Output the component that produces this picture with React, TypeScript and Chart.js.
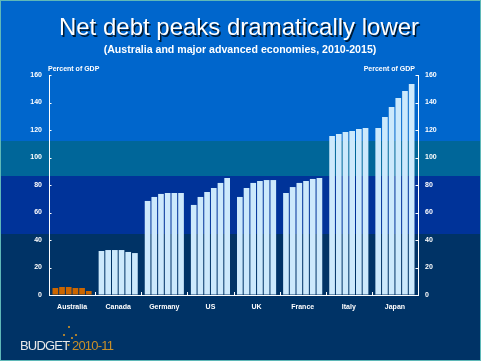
import React, { useEffect, useRef } from "react";
import { Chart, registerables } from "chart.js";

Chart.register(...registerables);

const countries = ["Australia", "Canada", "Germany", "US", "UK", "France", "Italy", "Japan"];
const years = ["2010", "2011", "2012", "2013", "2014", "2015"];

const australia = [5.1, 5.8, 5.8, 5.1, 5.1, 2.9];
const canada = [32, 32.7, 32.7, 32.7, 31.3, 30.5];
const germany = [68.4, 71.3, 73.5, 74.2, 74.2, 74.2];
const us = [65.5, 71.3, 74.9, 77.8, 81.5, 85.1];
const uk = [71.3, 77.8, 81.5, 82.9, 83.6, 83.6];
const france = [74.2, 78.5, 81.5, 82.9, 84.4, 85.1];
const italy = [115.6, 117.1, 118.5, 119.3, 120.7, 121.5];
const japan = [121.5, 129.5, 136.7, 143.3, 148.4, 153.5];

const yTicks = [0, 20, 40, 60, 80, 100, 120, 140, 160];

const title = "Net debt peaks dramatically lower";
const subtitle = "(Australia and major advanced economies, 2010-2015)";
const axisTitle = "Percent of GDP";

const byCountry = [australia, canada, germany, us, uk, france, italy, japan];

const ORANGE = "#cc6600";
const LIGHT = "#cce9fc";
const FONT = "'Liberation Sans', Arial, sans-serif";

const slidePlugin = {
  id: "slide",
  beforeDraw(chart: any) {
    const { ctx, width, height } = chart;
    ctx.save();
    ctx.fillStyle = "#0066cc";
    ctx.fillRect(0, 0, width, 141);
    ctx.fillStyle = "#006699";
    ctx.fillRect(0, 141, width, 35);
    ctx.fillStyle = "#003399";
    ctx.fillRect(0, 176, width, 58);
    ctx.fillStyle = "#003366";
    ctx.fillRect(0, 234, width, height - 234);
    ctx.restore();
  },
  afterDraw(chart: any) {
    const { ctx, width, height, chartArea } = chart;
    const yL = chart.scales.y;
    const yR = chart.scales.y2;
    const x = chart.scales.x;
    ctx.save();
    ctx.strokeStyle = "#ffffff";
    ctx.lineWidth = 1;
    ctx.beginPath();
    yL.ticks.forEach((_t: any, i: number) => {
      const py = Math.round(yL.getPixelForTick(i)) + 0.5;
      ctx.moveTo(chartArea.left, py);
      ctx.lineTo(chartArea.left + 2.5, py);
    });
    yR.ticks.forEach((_t: any, i: number) => {
      const py = Math.round(yR.getPixelForTick(i)) + 0.5;
      ctx.moveTo(chartArea.right, py);
      ctx.lineTo(chartArea.right - 2.5, py);
    });
    for (let i = 1; i < countries.length; i++) {
      const px = Math.round((x.getPixelForValue(i - 1) + x.getPixelForValue(i)) / 2) + 0.5;
      ctx.moveTo(px, chartArea.bottom);
      ctx.lineTo(px, chartArea.bottom - 3);
    }
    ctx.stroke();

    // Title
    ctx.textAlign = "center";
    ctx.textBaseline = "alphabetic";
    ctx.font = `24px ${FONT}`;
    ctx.fillStyle = "#001a33";
    ctx.fillText(title, 239 + 1.5, 35 + 1.5);
    ctx.fillStyle = "#ffffff";
    ctx.fillText(title, 239, 35);
    ctx.font = `bold 10.6px ${FONT}`;
    ctx.fillText(subtitle, 240, 53);

    // Axis titles
    ctx.font = `bold 7px ${FONT}`;
    ctx.textAlign = "left";
    ctx.fillText(axisTitle, chartArea.left - 1, 71);
    ctx.textAlign = "right";
    ctx.fillText(axisTitle, chartArea.right - 3, 71);

    // Logo
    ctx.textAlign = "left";
    ctx.font = `13px ${FONT}`;
    (ctx as any).letterSpacing = "-0.8px";
    ctx.fillStyle = "#e8e8e8";
    ctx.fillText("BUDGET", 20, 350);
    ctx.fillStyle = "#c8902a";
    ctx.fillText("2010-11", 72, 350);
    (ctx as any).letterSpacing = "0px";
    ctx.fillStyle = "#e09a20";
    [[69, 327], [76, 335], [64, 335], [72, 338], [68.5, 345]].forEach(([dx, dy]) => {
      ctx.beginPath();
      ctx.arc(dx, dy, 1, 0, Math.PI * 2);
      ctx.fill();
    });

    // Slide border
    ctx.strokeStyle = "#5fb8b8";
    ctx.lineWidth = 1;
    ctx.strokeRect(0.5, 0.5, width - 1, height - 1);
    ctx.restore();
  },
};

export default function App() {
  const ref = useRef<HTMLCanvasElement | null>(null);
  useEffect(() => {
    document.body.style.margin = "0";
    const canvas = ref.current;
    if (!canvas) return;
    const datasets = years.map((yr, j) => ({
      label: yr,
      data: byCountry.map((c) => c[j]),
      backgroundColor: countries.map((_c, i) => (i === 0 ? ORANGE : LIGHT)),
      borderWidth: 0,
      categoryPercentage: 0.87,
      barPercentage: 0.85,
    }));
    const tickFont = { family: FONT, size: 7, weight: "bold" as const };
    const chart = new Chart(canvas, {
      type: "bar",
      data: { labels: countries, datasets },
      plugins: [slidePlugin],
      options: {
        responsive: false,
        animation: false,
        events: [],
        layout: { padding: { top: 75, left: 0, right: 0, bottom: 0 } },
        plugins: { legend: { display: false }, tooltip: { enabled: false }, title: { display: false } },
        scales: {
          x: {
            grid: { display: false, drawTicks: false },
            border: { color: "#ffffff", width: 1 },
            ticks: { color: "#ffffff", font: tickFont, padding: 8, maxRotation: 0 },
            afterFit: (s: any) => { s.height = 66; },
          },
          y: {
            position: "left",
            min: 0,
            max: 160,
            afterBuildTicks: (s: any) => { s.ticks = yTicks.map((v) => ({ value: v })); },
            grid: { drawOnChartArea: false, drawTicks: false },
            border: { color: "#ffffff", width: 1 },
            ticks: { color: "#ffffff", font: tickFont, padding: 7 },
            afterFit: (s: any) => { s.width = 49; },
          },
          y2: {
            position: "right",
            min: 0,
            max: 160,
            afterBuildTicks: (s: any) => { s.ticks = yTicks.map((v) => ({ value: v })); },
            grid: { drawOnChartArea: false, drawTicks: false },
            border: { color: "#ffffff", width: 1 },
            ticks: { color: "#ffffff", font: tickFont, padding: 7 },
            afterFit: (s: any) => { s.width = 63; },
          },
        },
      },
    });
    return () => chart.destroy();
  }, []);
  return (
    <canvas ref={ref} width={481} height={361} style={{ display: "block", width: 481, height: 361 }} />
  );
}
